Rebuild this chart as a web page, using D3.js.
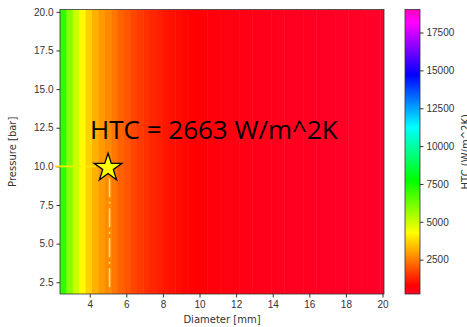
<!DOCTYPE html>
<html>
<head>
<meta charset="utf-8">
<script src="https://cdn.jsdelivr.net/npm/d3@7"></script>
<style>
  body { margin: 0; background: #fff; }
  svg { display: block; font-family: "DejaVu Sans", sans-serif; }
</style>
</head>
<body>
<div id="chart"></div>
<script>
// stripe centres along the diameter axis [mm] and heat transfer coefficient [W/m^2K]
const diameters = [2.55, 2.9, 3.25, 3.6, 3.95, 4.3, 4.65, 5.0, 5.35, 5.7, 6.05, 6.4, 6.75, 7.1, 7.45,
  7.8, 8.15, 8.5, 8.85, 9.2, 9.55, 9.9, 10.25, 10.6, 10.95, 11.3, 11.65, 12.0, 12.35, 12.7, 13.05,
  13.4, 13.75, 14.1, 14.45, 14.8, 15.15, 15.5, 15.85, 16.2, 16.55, 16.9, 17.25, 17.6, 17.95, 18.3,
  18.65, 19.0, 19.35, 19.7, 20.05];
const htc = [7100, 5900, 5000, 4200, 3650, 3200, 2900, 2663, 2400, 2150, 1950, 1750, 1580, 1440, 1310,
  1200, 1100, 1010, 940, 875, 815, 765, 720, 680, 640, 605, 574, 546, 520, 496, 474,
  453, 433, 415, 398, 382, 367, 353, 340, 328, 316, 305, 295, 285, 275, 267,
  258, 250, 243, 235, 228];
const cellWidth = 0.35;

const xTicks = [4, 6, 8, 10, 12, 14, 16, 18, 20];
const yTicks = [2.5, 5.0, 7.5, 10.0, 12.5, 15.0, 17.5, 20.0];
const cbTicks = [2500, 5000, 7500, 10000, 12500, 15000, 17500];
const htcRange = [232, 19021];

// selected operating point
const pointD = 5.0;
const pointP = 10.0;
const pointHTC = 2663;

// gist_rainbow stops
const cmapPos = [0, 0.03, 0.215, 0.4, 0.586, 0.77, 0.954, 1];
const cmapCol = ["rgb(255,0,41)", "rgb(255,0,0)", "rgb(255,255,0)", "rgb(0,255,0)",
  "rgb(0,255,255)", "rgb(0,0,255)", "rgb(255,0,255)", "rgb(255,0,191)"];

const W = 467, H = 327;
const margin = { top: 9.5, left: 60, bottom: 33, right: 83 };
const plotW = 384 - margin.left;
const plotH = H - margin.top - margin.bottom;

const svg = d3.select("#chart").append("svg")
  .attr("width", W).attr("height", H);

const x = d3.scaleLinear().domain([2.375, 20.08]).range([0, plotW]);
const y = d3.scaleLinear().domain([1.74, 20.15]).range([plotH, 0]);
const norm = d3.scaleLinear().domain(htcRange).range([0, 1]);
const cmap = d3.scaleLinear().domain(cmapPos).range(cmapCol).interpolate(d3.interpolateRgb).clamp(true);
const color = v => cmap(norm(v));

const g = svg.append("g").attr("transform", `translate(${margin.left},${margin.top})`);

g.append("clipPath").attr("id", "clip")
  .append("rect").attr("width", plotW).attr("height", plotH);

// heatmap columns (value does not change with pressure)
g.append("g").attr("clip-path", "url(#clip)")
  .selectAll("rect")
  .data(diameters.map((d, i) => ({ d, v: htc[i] })))
  .enter().append("rect")
    .attr("x", d => x(d.d - cellWidth / 2))
    .attr("width", d => x(d.d + cellWidth / 2) - x(d.d - cellWidth / 2) + 0.5)
    .attr("y", 0)
    .attr("height", plotH)
    .attr("fill", d => color(d.v));

// axes
const xAxis = g.append("g").attr("transform", `translate(0,${plotH})`)
  .call(d3.axisBottom(x).tickValues(xTicks).tickFormat(d3.format("d")).tickSize(3.5).tickPadding(3));
const yAxis = g.append("g")
  .call(d3.axisLeft(y).tickValues(yTicks).tickFormat(d3.format(".1f")).tickSize(3.5).tickPadding(3));
[xAxis, yAxis].forEach(a => {
  a.select(".domain").remove();
  a.selectAll("text").style("font-size", "10px").attr("fill", "#333");
  a.selectAll("line").attr("stroke", "#333");
});

g.append("rect").attr("width", plotW).attr("height", plotH)
  .attr("fill", "none").attr("stroke", "#333").attr("stroke-width", 0.8);

// guide lines to the operating point
const dash = "19,4.5,2,4.5";
g.append("line")
  .attr("x1", x(2.1)).attr("x2", x(pointD) - 12)
  .attr("y1", y(pointP)).attr("y2", y(pointP))
  .attr("stroke", "#ffe600").attr("stroke-width", 1.6).attr("stroke-dasharray", dash);
g.append("line")
  .attr("x1", x(pointD) + 1.5).attr("x2", x(pointD) + 1.5)
  .attr("y1", y(pointP) + 12).attr("y2", plotH - 2)
  .attr("stroke", "#ffe066").attr("stroke-width", 1.6).attr("stroke-dasharray", dash);

// star marker
g.append("path")
  .attr("d", d3.symbol(d3.symbolStar, 240)())
  .attr("transform", `translate(${x(pointD)},${y(pointP) + 1.5})`)
  .attr("fill", "#ffff00").attr("stroke", "#000").attr("stroke-width", 1.3);

g.append("text")
  .attr("x", x(pointD) - 18).attr("y", y(pointP) - 27)
  .style("font-family", "'Open Sans', sans-serif")
  .style("font-size", "26px")
  .attr("fill", "#000")
  .text(`HTC = ${pointHTC} W/m^2K`);

// axis labels
svg.append("text")
  .attr("x", margin.left + plotW / 2).attr("y", 323)
  .attr("text-anchor", "middle").style("font-size", "10px").attr("fill", "#333")
  .text("Diameter [mm]");
svg.append("text")
  .attr("transform", `translate(16,${margin.top + plotH / 2}) rotate(-90)`)
  .attr("text-anchor", "middle").style("font-size", "10px").attr("fill", "#333")
  .text("Pressure [bar]");

// colorbar
const cbX = 405, cbW = 15;
const cb = svg.append("g").attr("transform", `translate(${cbX},${margin.top})`);
const cy = d3.scaleLinear().domain(htcRange).range([plotH, 0]);
const grad = svg.append("defs").append("linearGradient")
  .attr("id", "cbgrad").attr("x1", 0).attr("x2", 0).attr("y1", 1).attr("y2", 0);
grad.selectAll("stop").data(cmapPos).enter().append("stop")
  .attr("offset", d => d)
  .attr("stop-color", (d, i) => cmapCol[i]);
cb.append("rect").attr("width", cbW).attr("height", plotH)
  .attr("fill", "url(#cbgrad)").attr("stroke", "#333").attr("stroke-width", 0.8);
const cAxis = cb.append("g").attr("transform", `translate(${cbW},0)`)
  .call(d3.axisRight(cy).tickValues(cbTicks).tickFormat(d3.format("d")).tickSize(3.5).tickPadding(3));
cAxis.select(".domain").remove();
cAxis.selectAll("text").style("font-size", "10px").attr("fill", "#333");
cAxis.selectAll("line").attr("stroke", "#333");

svg.append("text")
  .attr("transform", `translate(469,${margin.top + plotH / 2}) rotate(-90)`)
  .attr("text-anchor", "middle").style("font-size", "10px").attr("fill", "#333")
  .text("HTC (W/m^2K)");
</script>
</body>
</html>
